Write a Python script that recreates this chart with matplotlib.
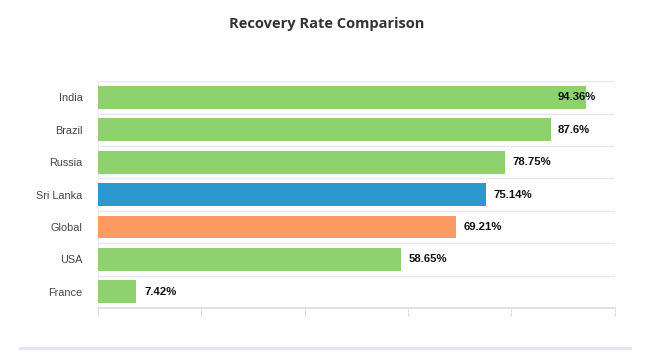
import matplotlib.pyplot as plt
from matplotlib.lines import Line2D

# data
countries = ["India", "Brazil", "Russia", "Sri Lanka", "Global", "USA", "France"]
recovery = [94.36, 87.6, 78.75, 75.14, 69.21, 58.65, 7.42]
labels = ["94.36%", "87.6%", "78.75%", "75.14%", "69.21%", "58.65%", "7.42%"]
colors = ["#8ed26f", "#8ed26f", "#8ed26f", "#2d97cf", "#fb9b63", "#8ed26f", "#8ed26f"]
xticks = [0, 20, 40, 60, 80, 100]

plt.rcParams['font.family'] = ['Liberation Sans', 'DejaVu Sans']

fig = plt.figure(figsize=(6.66, 3.64), dpi=100)
ax = fig.add_axes([0.147, 0.154, 0.776, 0.623])

ypos = list(range(len(countries)))
ax.barh(ypos, recovery, height=0.7, color=colors, zorder=3)

for y, v, t in zip(ypos, recovery, labels):
    ax.text(min(v + 1.5, 89.0), y, t, va='center', ha='left',
            fontsize=8.2, fontweight='bold', color='#111111', zorder=4)

ax.set_xlim(0, 100)
ax.set_ylim(len(countries) - 0.5, -0.5)
ax.set_yticks(ypos)
ax.set_yticklabels(countries, fontsize=7.8, color='#444444')
ax.tick_params(axis='y', length=0, pad=11)
ax.set_xticks(xticks)
ax.set_xticklabels([])
ax.tick_params(axis='x', length=6, color='#dddddd', direction='out')

# row separators
for b in range(len(countries) + 1):
    ax.axhline(b - 0.5, color='#e8e8e8', lw=1, zorder=1)

for s in ['top', 'right']:
    ax.spines[s].set_visible(False)
ax.spines['left'].set_color('#eeeeee')
ax.spines['bottom'].set_color('#dddddd')
ax.spines['bottom'].set_linewidth(1.2)

fig.text(0.49, 0.934, "Recovery Rate Comparison", ha='center', va='center',
         fontsize=10.5, fontweight='bold', color='#333333', family=['Open Sans', 'DejaVu Sans'])

# card bottom border
fig.add_artist(Line2D([0.03, 0.946], [0.044, 0.044], color='#e4e7f3', lw=2.5,
                      transform=fig.transFigure))

fig.savefig("out.png", dpi=100)
